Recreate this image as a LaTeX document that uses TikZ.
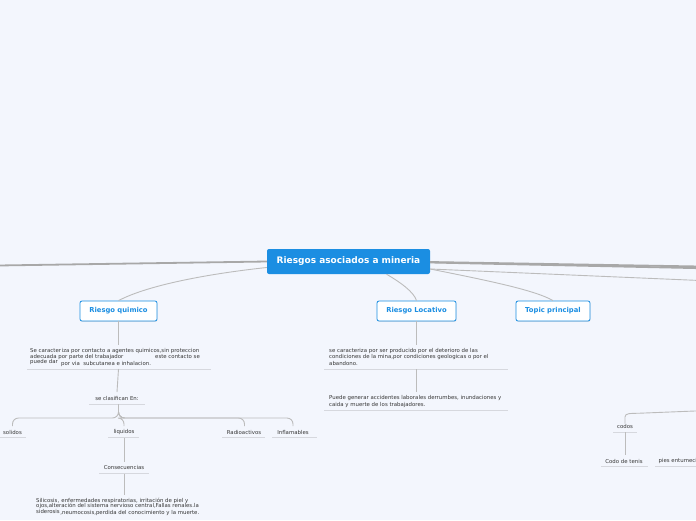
\documentclass[tikz,border=0pt]{standalone}
\usepackage{fontspec}
\setmainfont{DejaVu Sans}
\usetikzlibrary{shadows,calc}
\definecolor{bg}{RGB}{243,246,253}
\definecolor{mmblue}{RGB}{27,142,226}
\definecolor{linegray}{RGB}{168,168,168}
\definecolor{thingray}{RGB}{188,188,188}
\definecolor{ulgray}{RGB}{214,216,222}
\definecolor{txt}{RGB}{55,55,55}
\begin{document}
\begin{tikzpicture}[x=1pt,y=-1pt,
 central/.style={fill=mmblue, rounded corners=2pt, text=white, font=\bfseries\fontsize{9}{10}\selectfont, minimum width=163pt, minimum height=25pt, inner sep=0},
 topic/.style={draw=mmblue, line width=0.8pt, fill=white, rounded corners=2pt, text=mmblue, font=\bfseries\fontsize{6.8}{7.5}\selectfont, minimum height=20pt, inner sep=0, drop shadow={shadow xshift=0.4pt, shadow yshift=-0.8pt, opacity=0.2}},
 small/.style={font=\fontsize{5.4}{6}\selectfont, text=txt, inner sep=0, anchor=west},
 lbl/.style={font=\fontsize{5.4}{6}\selectfont, text=txt, inner sep=0},
 thicklink/.style={draw=linegray, line width=1.8pt},
 link/.style={draw=thingray, line width=0.9pt},
 uline/.style={draw=ulgray, line width=0.8pt},
]
\useasboundingbox (0,0) rectangle (696,520);
\clip (0,0) rectangle (696,520);
\fill[bg] (0,0) rectangle (696,520);

% coordinates for free ends
\coordinate (L) at (-2,265.5);
\coordinate (R1) at (700,266.5);
\coordinate (R2) at (700,268.2);
\coordinate (R3) at (700,280.5);
\coordinate (Rc) at (700,410.8);

% main nodes
\node[central] (root) at (348.5,261.5) {Riesgos asociados a mineria};
\node[topic, minimum width=77pt] (rq) at (118.5,311) {Riesgo quimico};
\node[topic, minimum width=79pt] (rl) at (416.5,311) {Riesgo Locativo};
\node[topic, minimum width=74pt] (tp) at (553,311) {Topic principal};

% connectors from root
\draw[thicklink] (root.west) -- (L);
\draw[thicklink] ($(root.east)+(0,0.5)$) -- (R1);
\draw[thicklink] ($(root.east)+(0,1)$) -- (R2);
\draw[link] ($(root.east)+(0,7.5)$) -- (R3);
\draw[link] ($(root.west)+(0,6)$) .. controls (215,273) and (150,284) .. (rq.north);
\draw[link] ($(root.south)+(38,0)$) .. controls (400,282) and (414,292) .. (rl.north);
\draw[link] ($(root.east)+(0,7.5)$) .. controls (485,280) and (535,290) .. (tp.north);

% ---------- Riesgo quimico branch
\coordinate (q0) at (118.5,345);
\draw[link] (rq.south) -- (q0);
\node[small] (q1a) at (30,350.5) {Se caracter};
\node[small] (q1b) at ($(q1a.east)+(0.3,0.8)$) {iza por contacto a agentes quimicos,sin proteccion};
\node[small] (q1c) at (30,356.8) {adecuada por parte del trabajador};
\node[small] (q1d) at (155,356.8) {este contacto se};
\node[small] (q1e) at (30,362.3) {puede dar};
\node[small] (q1f) at ($(q1e.east)+(3,1.9)$) {por via\ \ subcutanea e inhalacion.};
\coordinate (u1l) at (27,369);
\coordinate (u1r) at (211,369);
\draw[uline] (u1l) -- (u1r);
\coordinate (u1m) at (118.5,369);

\node[lbl] (sc) at (117,398) {se clasifican En:};
\coordinate (scl) at (89,404.5);
\coordinate (scr) at (145,404.5);
\draw[uline] (scl) -- (scr);
\draw[link] (u1m) -- (sc.north |- 0,392);
\coordinate (scm) at (118.5,404.5);

\node[lbl] (so) at (12.5,432) {solidos};
\node[lbl] (li) at (124,432) {liquidos};
\node[lbl] (ra) at (244,432) {Radioactivos};
\node[lbl] (in) at (293,432) {Inflamables};
\draw[uline] (-2,437.5) -- (26,437.5);
\draw[uline] (108,437.5) -- (139,437.5);
\draw[uline] (222,437.5) -- (265,437.5);
\draw[uline] (272,437.5) -- (317,437.5);
\foreach \c/\xx in {so/12.5, li/124, ra/244.5, in/293}{
  \draw[link, rounded corners=6pt] (scm) -- (118.5,418) -- (\xx,418) -- (\xx,426);
}

\coordinate (lim) at (124,437.5);
\node[lbl] (co) at (124,467) {Consecuencias};
\draw[link] (lim) -- (124,462);
\draw[uline] (99,473.5) -- (149,473.5);
\coordinate (com) at (124,473.5);
\draw[link] (com) -- (124,495);
\node[small] (c1a) at (36,500.4) {Silicosis,};
\node[small] (c1b) at ($(c1a.east)+(1.8,0.8)$) {enfermedades respiratorias, irritación de piel y};
\node[small] (c2) at (36,506) {ojos,alteración del sistema nervioso central,Fallas renales.la};
\node[small] (c3a) at (36,511.4) {siderosis};
\node[small] (c3b) at ($(c3a.east)+(0.3,1.6)$) {,neumocosis,perdida del conocimiento y la muerte.};

% ---------- Riesgo Locativo branch
\coordinate (l0) at (416.5,345);
\draw[link] (rl.south) -- (l0);
\node[small] (l1a) at (329,351.2) {se caracteriza por ser producido por el deterioro de las};
\node[small] (l1b) at (329,357.2) {condiciones de la mina,por condiciones geologicas o por el};
\node[small] (l1c) at (329,363.7) {abandono.};
\draw[uline] (324,369) -- (508,369);
\coordinate (l1m) at (416.5,369);
\draw[link] (l1m) -- (416.5,392);
\node[small] (l2a) at (329,398.2) {Puede generar accidentes laborales derrumbes, inundaciones y};
\node[small] (l2b) at (329,404.7) {caida y muerte de los trabajadores.};
\draw[uline] (324,410) -- (508,410);

% ---------- right lower branch
\node[lbl] (cd) at (625,426) {codos};
\draw[uline] (613,432) -- (637,432);
\draw[link] (cd.north) -- (625,417) .. controls (625,413) and (630,413.5) .. (640,413.2) -- (Rc);
\coordinate (cdm) at (625,432);
\draw[link] (cdm) -- (625,455);
\node[lbl] (ct) at (624,461) {Codo de tenis};
\draw[uline] (601,466.5) -- (648,466.5);
\node[lbl, anchor=west] (pe) at (658.5,461) {pies entumecidos};
\draw[uline] (655,466.5) -- (700,466.5);
\end{tikzpicture}
\end{document}
